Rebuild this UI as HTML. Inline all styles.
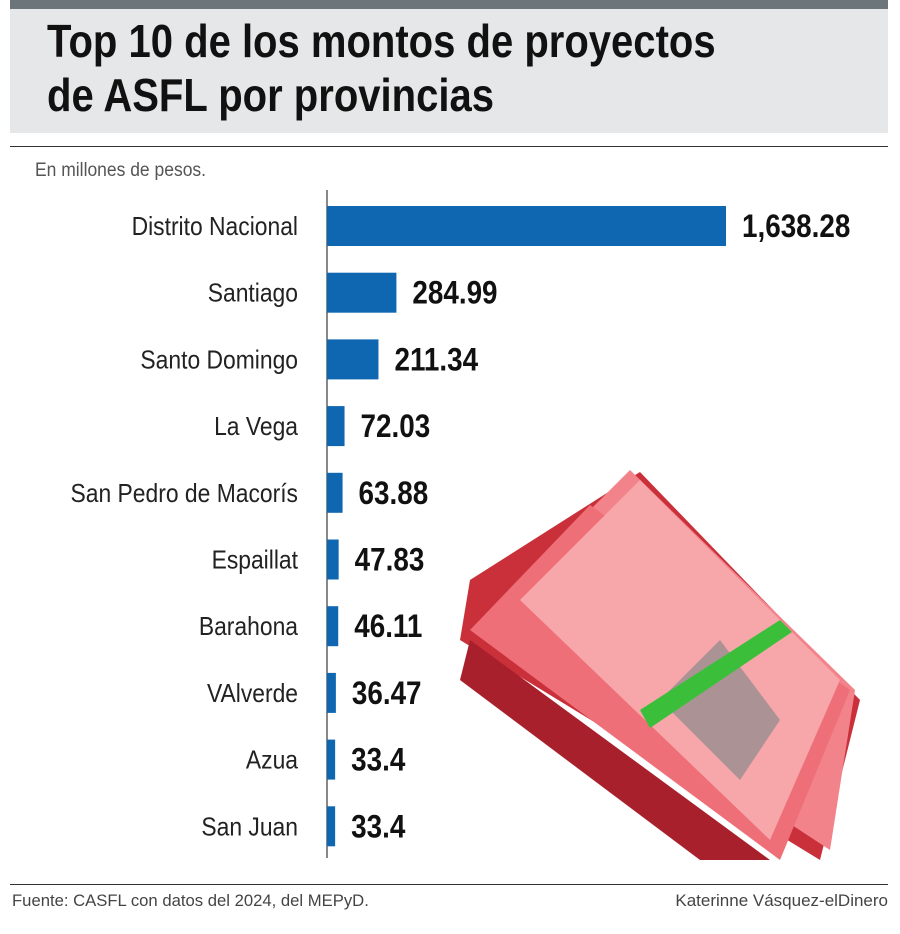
<!DOCTYPE html>
<html><head><meta charset="utf-8">
<style>
body{margin:0;width:900px;height:934px;background:#fff;overflow:hidden;font-family:"Liberation Sans Narrow","Liberation Sans",sans-serif;position:relative}
.abs{position:absolute}
</style></head><body>
<div class="abs" style="left:10px;top:0;width:878px;height:9px;background:#6c757a"></div>
<div class="abs" style="left:10px;top:9px;width:878px;height:124px;background:#e6e7e8"></div>
<div class="abs" style="left:47px;top:14px;font-size:46px;font-weight:bold;line-height:54px;color:#111;transform:scaleX(0.87);transform-origin:left;white-space:nowrap">Top 10 de los montos de proyectos<br>de ASFL por provincias</div>
<div class="abs" style="left:10px;top:146px;width:878px;height:1px;background:#333"></div>
<div class="abs" style="left:35px;top:160px;font-size:19px;color:#555;transform:scaleX(0.92);transform-origin:left">En millones de pesos.</div>
<svg class="abs" style="left:0;top:0" width="900" height="934">
<g>
<polygon points="640,472 860,700 820,860 460,640 470,580" fill="#c9303a"/>
<polygon points="630,470 855,690 830,850 480,620" fill="#f2838a"/>
<polygon points="590,505 850,690 780,860 470,630" fill="#ee6f78"/>
<polygon points="640,480 840,680 770,840 520,600" fill="#f7a6aa"/>
<polygon points="660,700 720,640 780,720 740,780" fill="#8a8a8a" opacity="0.7"/>
<polygon points="640,710 780,620 792,632 650,728" fill="#3bbf3b"/>
<polygon points="470,640 770,860 700,860 460,680" fill="#a8202b"/>
</g>
<line x1="327" y1="190" x2="327" y2="858" stroke="#888" stroke-width="2"/>
<g id="bars"></g>
</svg>
<div class="abs" style="left:10px;top:884px;width:878px;height:1px;background:#333"></div>
<div class="abs" style="left:12px;top:891px;font-size:17px;color:#444;transform:scaleX(0.98);transform-origin:left">Fuente: CASFL con datos del 2024, del MEPyD.</div>
<div class="abs" style="right:12px;top:891px;font-size:17px;color:#444">Katerinne Vásquez-elDinero</div>
<script>
const categories=["Distrito Nacional","Santiago","Santo Domingo","La Vega","San Pedro de Macorís","Espaillat","Barahona","VAlverde","Azua","San Juan"];
const values=[1638.28,284.99,211.34,72.03,63.88,47.83,46.11,36.47,33.4,33.4];
const valueLabels=["1,638.28","284.99","211.34","72.03","63.88","47.83","46.11","36.47","33.4","33.4"];
const NS="http://www.w3.org/2000/svg";
const x0=327,xScale=v=>v*(399/1638.28);
const yCenter=i=>226+i*66.7;
const g=document.getElementById('bars');
categories.forEach((c,i)=>{
  const y=yCenter(i),w=Math.max(xScale(values[i]),7);
  const r=document.createElementNS(NS,'rect');
  r.setAttribute('x',x0);r.setAttribute('y',y-20);r.setAttribute('width',w);r.setAttribute('height',40);r.setAttribute('fill','#0f67b1');
  
  
  g.appendChild(r);
  const t=document.createElementNS(NS,'text');
  t.setAttribute('x',0);t.setAttribute('y',0);t.setAttribute('text-anchor','end');t.setAttribute('font-size','26');t.setAttribute('fill','#222');
  t.setAttribute('transform','translate(298,'+(y+9)+') scale(0.88,1)');
  t.setAttribute('font-family','Liberation Sans Narrow, Liberation Sans, sans-serif');
  t.textContent=c;
  
  
  g.appendChild(t);
  const v=document.createElementNS(NS,'text');
  v.setAttribute('x',0);v.setAttribute('y',0);v.setAttribute('font-size','32');v.setAttribute('font-weight','bold');v.setAttribute('fill','#111');
  v.setAttribute('transform','translate('+(x0+w+16)+','+(y+11)+') scale(0.87,1)');
  v.setAttribute('font-family','Liberation Sans Narrow, Liberation Sans, sans-serif');
  v.textContent=valueLabels[i];
  
  
  g.appendChild(v);
});
</script>
</body></html>
